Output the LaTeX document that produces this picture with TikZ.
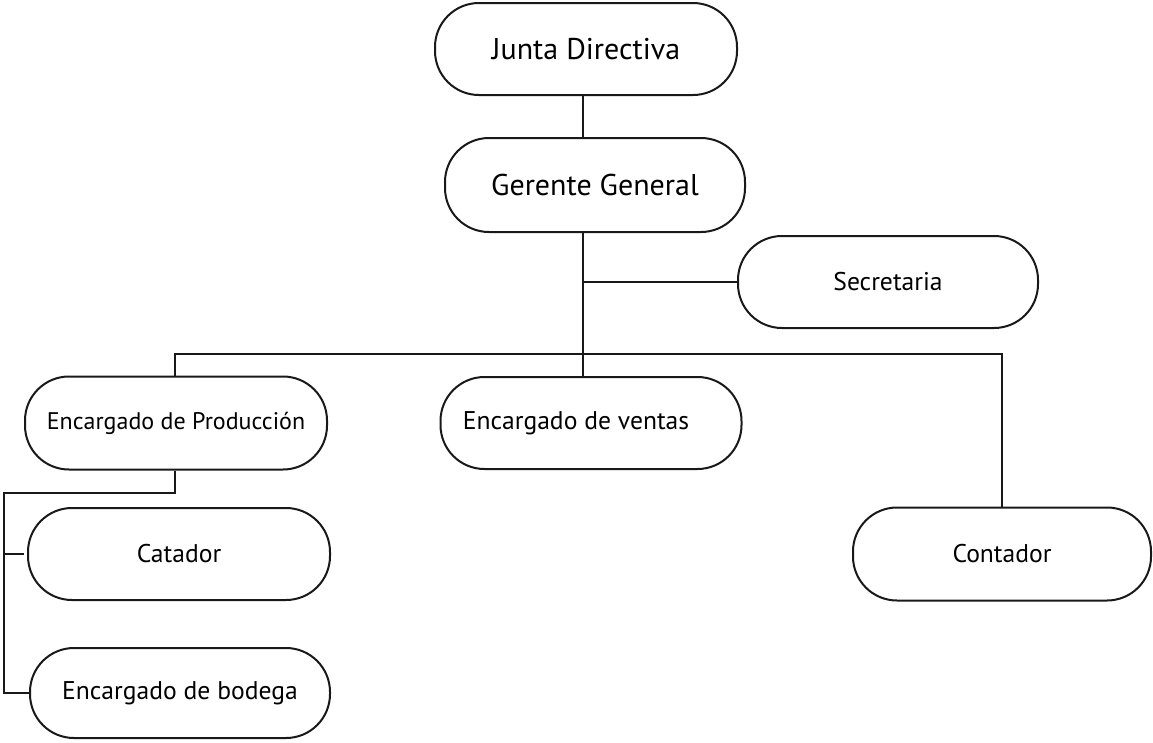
\documentclass[tikz,border=0pt]{standalone}
\usepackage{fontspec}
\setmainfont{PT Sans}
\begin{document}
\begin{tikzpicture}[x=1pt,y=-1pt,
  box/.style={draw=black!90,line width=2pt,rounded corners=44pt,inner sep=0pt,font=\fontsize{25.6}{30}\selectfont},
  big/.style={font=\fontsize{30}{36}\selectfont},
  mid/.style={font=\fontsize{24}{28}\selectfont},
  conn/.style={draw=black!90,line width=2pt}]
\useasboundingbox (0,0) rectangle (1153,742);
\node[box,big,minimum width=302pt,minimum height=92pt] (jd) at (586,49) {Junta Directiva};
\node[box,big,minimum width=300pt,minimum height=94pt] (gg) at (595,185) {Gerente General};
\node[box,minimum width=300pt,minimum height=92pt] (sec) at (888,282) {Secretaria};
\node[box,mid,minimum width=302pt,minimum height=93pt] (prod) at (176,423) {Encargado de Producción};
\node[box,minimum width=301pt,minimum height=92pt] (ven) at (591,423) {Encargado de ventas\hspace*{30pt}};
\node[box,minimum width=302pt,minimum height=92pt] (cat) at (179,554) {Catador};
\node[box,minimum width=298pt,minimum height=93pt] (cont) at (1002,554) {Contador};
\node[box,minimum width=300pt,minimum height=90pt] (bod) at (180,693) {Encargado de bodega};
\coordinate (tr) at (583,354);
\coordinate (bl) at (175,354);
\coordinate (br) at (1002,354);
\coordinate (lf) at (4,493);
\draw[conn] (jd.south -| tr) -- (gg.north -| tr);
\draw[conn] (gg.south -| tr) -- (ven.north -| tr);
\draw[conn] (tr |- sec.west) -- (sec.west);
\draw[conn] (prod.north -| bl) -- (bl) -- (br) -- (cont.north);
\draw[conn] (prod.south -| bl) -- (lf -| bl) -- (lf) -- (lf |- bod.west) -- (bod.west);
\draw[conn,shorten >=3pt] (lf |- cat.west) -- (cat.west);
\end{tikzpicture}
\end{document}
